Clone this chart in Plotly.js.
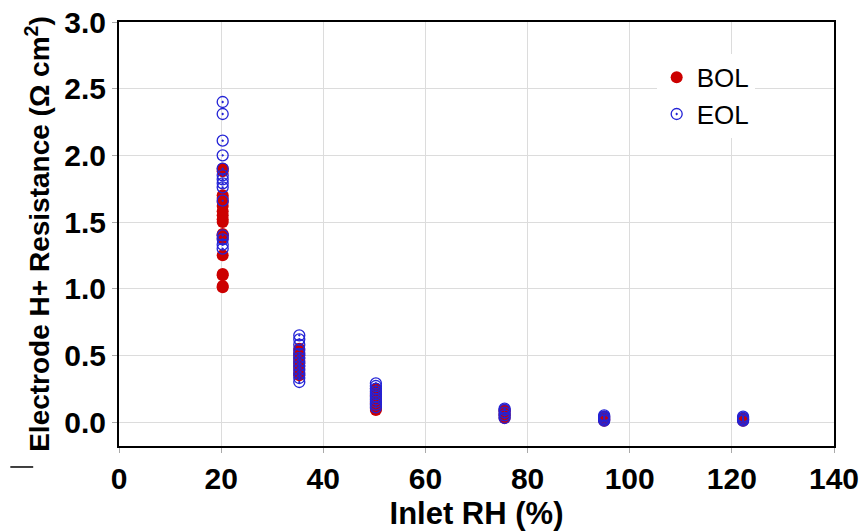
<!DOCTYPE html>
<html>
<head>
<meta charset="utf-8">
<script src="https://cdn.plot.ly/plotly-3.0.1.min.js"></script>
<style>html,body{margin:0;padding:0;background:#fff;}#chart{width:863px;height:531px;}</style>
</head>
<body>
<div id="chart"></div>
<script>
// Inlet RH groups (%)
const rhGroups = [20.3, 35.3, 50.3, 75.5, 95, 122.2];

// BOL resistance values per RH group
const bol20 = [1.01, 1.02, 1.10, 1.11, 1.25, 1.38, 1.40, 1.41, 1.50, 1.52, 1.55, 1.58, 1.62, 1.65, 1.68, 1.70, 1.88, 1.90];
const bol35 = [0.35, 0.37, 0.40, 0.42, 0.44, 0.46, 0.48, 0.50, 0.52, 0.55];
const bol50 = [0.09, 0.10, 0.12, 0.14, 0.16, 0.18, 0.20, 0.22, 0.25];
const bol75 = [0.03, 0.05, 0.06, 0.08, 0.09];
const bol95 = [0.01, 0.02, 0.03, 0.04];
const bol122 = [0.01, 0.02, 0.03];

// EOL resistance values per RH group
const eol20 = [2.40, 2.31, 2.11, 2.00, 1.90, 1.85, 1.82, 1.79, 1.76, 1.66, 1.40, 1.37, 1.33, 1.30];
const eol35 = [0.30, 0.33, 0.36, 0.39, 0.42, 0.45, 0.48, 0.51, 0.54, 0.58, 0.62, 0.65];
const eol50 = [0.11, 0.13, 0.15, 0.17, 0.19, 0.21, 0.23, 0.25, 0.27, 0.29];
const eol75 = [0.03, 0.05, 0.07, 0.09, 0.10];
const eol95 = [0.01, 0.02, 0.03, 0.04, 0.05];
const eol122 = [0.01, 0.02, 0.03, 0.04];

const seriesNames = ["BOL", "EOL"];
const xTicks = [0, 20, 40, 60, 80, 100, 120, 140];
const yTicks = [0.0, 0.5, 1.0, 1.5, 2.0, 2.5, 3.0];
const yTickText = ["0.0", "0.5", "1.0", "1.5", "2.0", "2.5", "3.0"];

function flatten(groups) {
  const xs = [], ys = [];
  groups.forEach((vals, i) => vals.forEach(v => { xs.push(rhGroups[i]); ys.push(v); }));
  return {xs, ys};
}
const bol = flatten([bol20, bol35, bol50, bol75, bol95, bol122]);
const eol = flatten([eol20, eol35, eol50, eol75, eol95, eol122]);

const FONT = "Arial, 'Liberation Sans', sans-serif";

const traces = [
  {
    x: bol.xs, y: bol.ys, name: seriesNames[0], type: "scatter", mode: "markers",
    marker: {symbol: "circle", size: 12, color: "#CC0000"}
  },
  {
    x: eol.xs, y: eol.ys, name: seriesNames[1], type: "scatter", mode: "markers",
    marker: {symbol: "circle-open-dot", size: 11, color: "#2323D6", line: {width: 1.3}}
  }
];

const layout = {
  width: 863, height: 531,
  margin: {l: 119, r: 29, t: 22, b: 85},
  paper_bgcolor: "#fff", plot_bgcolor: "#fff",
  showlegend: true,
  legend: {
    x: 0.752, y: 0.925, xanchor: "left", yanchor: "top",
    bgcolor: "#fff", borderwidth: 0,
    font: {family: FONT, size: 26, color: "#000"},
    itemsizing: "trace", tracegroupgap: 4
  },
  xaxis: {
    range: [0, 140], tickvals: xTicks, ticktext: xTicks.map(String),
    showgrid: true, gridcolor: "#dcdcdc", gridwidth: 1,
    zeroline: false, showline: true, linecolor: "#000", linewidth: 2, mirror: true,
    ticks: "outside", ticklen: 5, tickcolor: "#aaa", tickwidth: 1,
    tickfont: {family: FONT, size: 30, color: "#000", weight: "bold"},
    title: {text: "<b>Inlet RH (%)</b>", font: {family: FONT, size: 31, color: "#000"}, standoff: 10}
  },
  yaxis: {
    range: [-0.18, 3.0], tickvals: yTicks, ticktext: yTickText,
    showgrid: true, gridcolor: "#dcdcdc", gridwidth: 1,
    zeroline: false, showline: true, linecolor: "#000", linewidth: 2, mirror: true,
    ticks: "outside", ticklen: 5, tickcolor: "#aaa", tickwidth: 1,
    tickfont: {family: FONT, size: 30, color: "#000", weight: "bold"},
    title: {text: "<b>Electrode H+ Resistance (Ω cm<sup>2</sup>)</b>", font: {family: FONT, size: 28, color: "#000"}, standoff: 6}
  },
  shapes: [
    {type: "line", xref: "paper", yref: "paper", x0: -0.152, x1: -0.120, y0: -0.0495, y1: -0.0495,
     line: {color: "#000", width: 1.5}}
  ]
};

Plotly.newPlot("chart", traces, layout, {displayModeBar: false, staticPlot: true});
</script>
</body>
</html>
